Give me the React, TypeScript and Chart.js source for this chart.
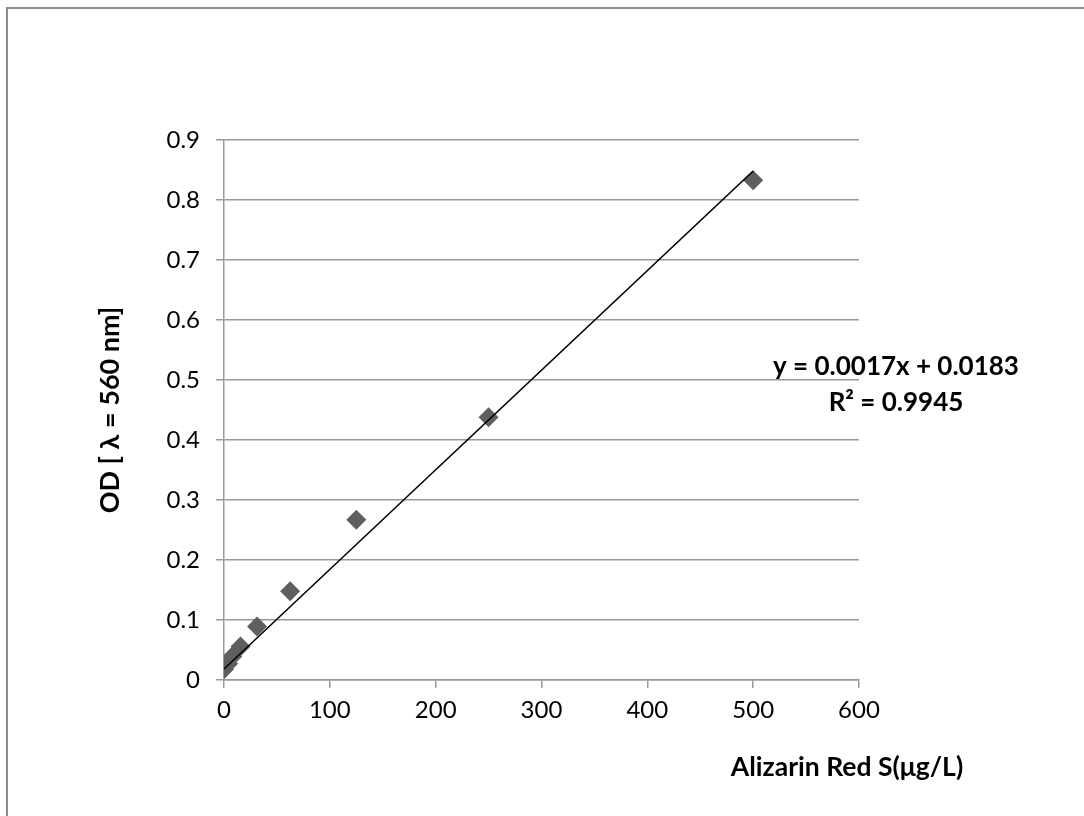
import { useEffect, useRef } from 'react';
import { Chart, registerables } from 'chart.js';

Chart.register(...registerables);

// ---- data ----
const concentrations = [0, 3.9, 7.8, 15.6, 31.25, 62.5, 125, 250, 500];
const odValues = [0.018, 0.027, 0.039, 0.056, 0.089, 0.148, 0.267, 0.438, 0.833];
const trendSlope = 0.00166;
const trendIntercept = 0.0183;
const trendRange = [0, 500];
const equationLines = ['y = 0.0017x + 0.0183', 'R² = 0.9945'];
const xTitle = 'Alizarin Red S(μg/L)';
const yTitle = 'OD [ λ = 560 nm]';

const FONT = 'Lato';
const GRID = '#9a9a9a';

const annotationPlugin = {
  id: 'annotationText',
  afterDraw(chart: any) {
    const ctx = chart.ctx;
    const ca = chart.chartArea;
    ctx.save();
    ctx.fillStyle = '#000';
    ctx.textAlign = 'center';
    ctx.textBaseline = 'middle';
    ctx.font = `bold 26.5px ${FONT}`;
    ctx.fillText(xTitle, ca.right - 12, ca.bottom + 87);
    ctx.font = `bold 26px ${FONT}`;
    ctx.fillText(equationLines[0], ca.right + 37, 358);
    ctx.fillText(equationLines[1], ca.right + 37, 394);
    ctx.restore();
  },
};

export default function App() {
  const ref = useRef<HTMLCanvasElement | null>(null);

  useEffect(() => {
    if (!ref.current) return;
    const chart = new Chart(ref.current, {
      type: 'scatter',
      data: {
        datasets: [
          {
            type: 'line',
            label: 'Linear',
            data: trendRange.map((x) => ({ x, y: trendIntercept + trendSlope * x })),
            borderColor: '#000',
            borderWidth: 1.6,
            pointRadius: 0,
            fill: false,
            order: 0,
          } as any,
          {
            label: 'OD',
            data: concentrations.map((x, i) => ({ x, y: odValues[i] })),
            pointStyle: 'rectRot',
            pointRadius: 10,
            backgroundColor: '#5f5f5f',
            borderColor: '#5f5f5f',
            borderWidth: 0,
            order: 1,
          },
        ],
      },
      options: {
        animation: false,
        responsive: false,
        events: [],
        layout: { padding: { left: 0, right: 225, top: 131, bottom: 0 } },
        plugins: { legend: { display: false }, tooltip: { enabled: false } },
        scales: {
          x: {
            type: 'linear',
            min: 0,
            max: 600,
            afterFit: (s: any) => {
              s.height = 136;
            },
            ticks: { stepSize: 100, padding: 8, color: '#000', font: { family: FONT, size: 24 } },
            grid: { drawOnChartArea: false, drawTicks: true, tickLength: 8, color: GRID, lineWidth: 1.5 },
            border: { color: GRID, width: 1.5 },
          },
          y: {
            type: 'linear',
            min: 0,
            max: 0.9,
            afterFit: (s: any) => {
              s.width = 216;
            },
            ticks: { stepSize: 0.1, padding: 16, color: '#000', font: { family: FONT, size: 24 } },
            grid: { drawTicks: true, tickLength: 8, color: GRID, lineWidth: 1.5 },
            border: { color: GRID, width: 1.5 },
            title: {
              display: true,
              text: yTitle,
              color: '#000',
              font: { family: FONT, size: 27, weight: 'bold' },
              padding: { top: 86, bottom: 0 },
            },
          },
        },
      },
      plugins: [annotationPlugin],
    });
    return () => chart.destroy();
  }, []);

  return (
    <div
      style={{
        position: 'absolute',
        left: 6,
        top: 7,
        width: 1078,
        height: 809,
        boxSizing: 'border-box',
        borderLeft: '2px solid #8c8c8c',
        borderTop: '2px solid #8c8c8c',
        overflow: 'hidden',
        background: '#fff',
      }}
    >
      <canvas ref={ref} width={1076} height={807} style={{ display: 'block' }} />
    </div>
  );
}
